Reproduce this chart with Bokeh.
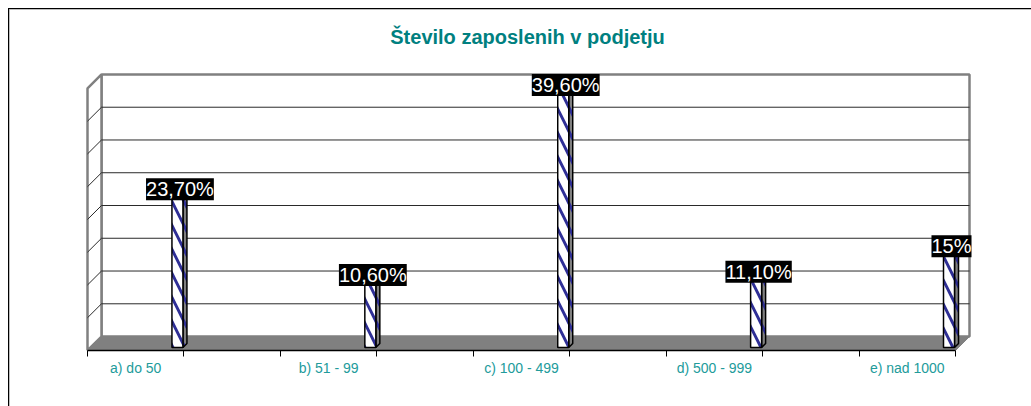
from bokeh.plotting import figure
from bokeh.models import LinearAxis, FixedTicker, ColumnDataSource, LabelSet
from bokeh.core.properties import value
from bokeh.embed import file_html
from bokeh.resources import INLINE

# ---- data ----
categories = ["a) do 50", "b) 51 - 99", "c) 100 - 499", "d) 500 - 999", "e) nad 1000"]
values = [23.7, 10.6, 39.6, 11.1, 15.0]
value_labels = ["23,70%", "10,60%", "39,60%", "11,10%", "15%"]
grid_values = [5, 10, 15, 20, 25, 30, 35]
y_max = 40
n_slots = 9  # category axis slots (label slots + gaps)

# ---- geometry helpers (pixel -> data conversions) ----
PXX = n_slots / 868.0      # data units per pixel horizontally
PXY = y_max / 263.0        # data units per pixel vertically
DX, DY = 14 * PXX, 14 * PXY  # 3D depth of walls/floor

TEAL = "#008080"
LABEL_TEAL = "#229b9b"
GRAY = "#808080"
NAVY = "#2f2f96"

p = figure(width=1023, height=398, output_backend="svg", toolbar_location=None,
           x_axis_type=None, y_axis_type=None,
           x_range=(-26 * PXX, 906 * PXX), y_range=(0, 289 * PXY),
           min_border_left=52, min_border_right=39, min_border_top=52, min_border_bottom=57,
           title="Število zaposlenih v podjetju",
           styles={"margin-left": "8px", "margin-top": "8px",
                   "border-left": "1px solid #000", "border-top": "1px solid #000",
                   "box-shadow": "inset 1px 1px 0 #a8a8a8"})
p.outline_line_color = None
p.background_fill_color = "white"
p.border_fill_color = "white"
p.title.align = "center"
p.title.text_color = TEAL
p.title.text_font = "Liberation Sans"
p.title.text_font_size = "20px"
p.title.text_font_style = "bold"
p.title.standoff = 29

# ---- walls and floor ----
# back wall
p.patch([DX, n_slots + DX, n_slots + DX, DX], [DY, DY, y_max + DY, y_max + DY],
        fill_color="white", line_color=GRAY, line_width=2.5)
# left wall
p.patch([0, DX, DX, 0], [0, DY, y_max + DY, y_max],
        fill_color="white", line_color=GRAY, line_width=2.5)
# gridlines on back wall and left wall
p.segment(x0=[DX] * len(grid_values), y0=[g + DY for g in grid_values],
          x1=[n_slots + DX] * len(grid_values), y1=[g + DY for g in grid_values],
          line_color="#2a2a2a", line_width=1)
p.segment(x0=[0] * len(grid_values), y0=grid_values,
          x1=[DX] * len(grid_values), y1=[g + DY for g in grid_values],
          line_color="#2a2a2a", line_width=1)
# floor
p.patch([0, n_slots, n_slots + DX, DX], [0, 0, DY, DY],
        fill_color=GRAY, line_color=GRAY, line_width=1)

# ---- bars (thin 3D columns) ----
pos = [2 * i + 1 for i in range(len(categories))]
b0 = 3 * PXY
left = [x - 12 * PXX for x in pos]
right = [x - 1 * PXX for x in pos]
tops = [v + b0 for v in values]
dbx, dby = 4 * PXX, 4 * PXY

HATCH = dict(hatch_pattern="left_diagonal_line", hatch_color=NAVY,
             hatch_weight=3, hatch_scale=24)
# side faces
p.patches(xs=[[r, r + dbx, r + dbx, r] for r in right],
          ys=[[b0, b0 + dby, t + dby, t] for t in tops],
          fill_color=GRAY, line_color="black", line_width=1.5, **HATCH)
# top faces
p.patches(xs=[[l, r, r + dbx, l + dbx] for l, r in zip(left, right)],
          ys=[[t, t, t + dby, t + dby] for t in tops],
          fill_color="#c0c0c0", line_color="black", line_width=1.5)
# front faces
src = ColumnDataSource(dict(x=[(l + r) / 2 for l, r in zip(left, right)],
                            top=tops, bottom=[b0] * len(values),
                            lx=[x - 4 * PXX for x in pos], label=value_labels))
p.vbar(x="x", top="top", bottom="bottom", width=11 * PXX, source=src,
       fill_color="white", line_color="black", line_width=1.5, **HATCH)

labels = LabelSet(x="lx", y="top", text="label", source=src, y_offset=3,
                  text_align="center", text_baseline="middle",
                  text_color="white", text_font=value("Liberation Sans"),
                  text_font_size=value("20px"),
                  background_fill_color="black")
p.add_layout(labels)

# ---- category axis ----
label_ticks = [2 * i + 0.5 for i in range(len(categories))]
xaxis = LinearAxis(ticker=FixedTicker(ticks=label_ticks, minor_ticks=list(range(n_slots + 1))),
                   bounds=(0, n_slots),
                   major_label_overrides={t: c for t, c in zip(label_ticks, categories)})
xaxis.axis_line_color = "black"
xaxis.axis_line_width = 1.5
xaxis.major_tick_out = 0
xaxis.major_tick_in = 0
xaxis.minor_tick_out = 6
xaxis.minor_tick_in = 0
xaxis.minor_tick_line_color = "black"
xaxis.minor_tick_line_width = 1
xaxis.major_label_standoff = 3
xaxis.major_label_text_color = LABEL_TEAL
xaxis.major_label_text_font = "Liberation Sans"
xaxis.major_label_text_font_size = "14px"
p.add_layout(xaxis, "below")

open("out.html", "w").write(file_html(p, INLINE))
